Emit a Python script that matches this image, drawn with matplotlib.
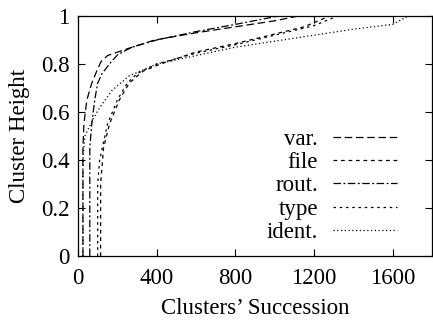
import numpy as np
import matplotlib.pyplot as plt

# curves (clusters' succession vs cluster height)
var_x = [25, 25, 30, 45, 70, 95, 117, 150, 203, 275, 390, 600, 800, 1000, 1120]
var_y = [0, 0.45, 0.55, 0.65, 0.72, 0.77, 0.81, 0.835, 0.85, 0.87, 0.9, 0.93, 0.955, 0.98, 1.0]

file_x = [115, 115, 130, 160, 210, 260, 330, 420, 600, 800, 1000, 1150, 1280]
file_y = [0, 0.3, 0.45, 0.55, 0.65, 0.72, 0.77, 0.8, 0.85, 0.885, 0.925, 0.955, 1.0]

rout_x = [60, 60, 70, 85, 100, 122, 170, 203, 275, 400, 600, 800, 1020]
rout_y = [0, 0.45, 0.55, 0.65, 0.72, 0.76, 0.81, 0.84, 0.87, 0.9, 0.935, 0.965, 1.0]

type_x = [100, 100, 110, 150, 200, 250, 300, 400, 600, 800, 1000, 1200, 1320]
type_y = [0, 0.3, 0.4, 0.55, 0.65, 0.72, 0.76, 0.8, 0.845, 0.88, 0.92, 0.96, 1.0]

ident_x = [25, 25, 35, 76, 112, 173, 259, 400, 600, 800, 1000, 1200, 1400, 1600, 1680]
ident_y = [0, 0.4, 0.5, 0.57, 0.62, 0.69, 0.75, 0.8, 0.835, 0.87, 0.895, 0.92, 0.945, 0.965, 1.0]

x_ticks = [0, 400, 800, 1200, 1600]
y_ticks = [0, 0.2, 0.4, 0.6, 0.8, 1]

plt.rcParams['font.family'] = ['Liberation Serif', 'DejaVu Serif']
plt.rcParams['font.size'] = 16.5

fig = plt.figure(figsize=(4.33, 3.21), dpi=100)
ax = fig.add_axes([78 / 433, 1 - 256 / 321, 354 / 433, 240 / 321])

lw = 0.9
ax.plot(var_x, var_y, color='black', lw=lw, linestyle=(0, (6, 3)), label='var.')
ax.plot(file_x, file_y, color='black', lw=lw, linestyle=(0, (3, 3)), label='file')
ax.plot(rout_x, rout_y, color='black', lw=lw, linestyle=(0, (6, 2, 1.5, 2)), label='rout.')
ax.plot(type_x, type_y, color='black', lw=lw, linestyle=(0, (2, 3)), label='type')
ax.plot(ident_x, ident_y, color='black', lw=lw, linestyle=(0, (1, 2)), label='ident.')

ax.set_xlim(0, 1800)
ax.set_ylim(0, 1)
ax.set_xticks(x_ticks)
ax.set_yticks(y_ticks)
ax.set_yticklabels(['0', '0.2', '0.4', '0.6', '0.8', '1'])
ax.tick_params(direction='in', length=5, width=0.8, top=True, right=True)
ax.tick_params(axis='x', pad=9)
ax.tick_params(axis='y', pad=6)
for s in ax.spines.values():
    s.set_linewidth(0.9)

ax.set_xlabel("Clusters’ Succession", labelpad=6)
ax.set_ylabel("Cluster Height", labelpad=8)

ax.legend(loc='lower right', bbox_to_anchor=(397 / 433, 1 - 243 / 321),
          bbox_transform=fig.transFigure, frameon=False, markerfirst=False,
          handlelength=2.8, handletextpad=0.65, labelspacing=0.1, borderpad=0,
          borderaxespad=0)

fig.savefig('out.png', dpi=100)
